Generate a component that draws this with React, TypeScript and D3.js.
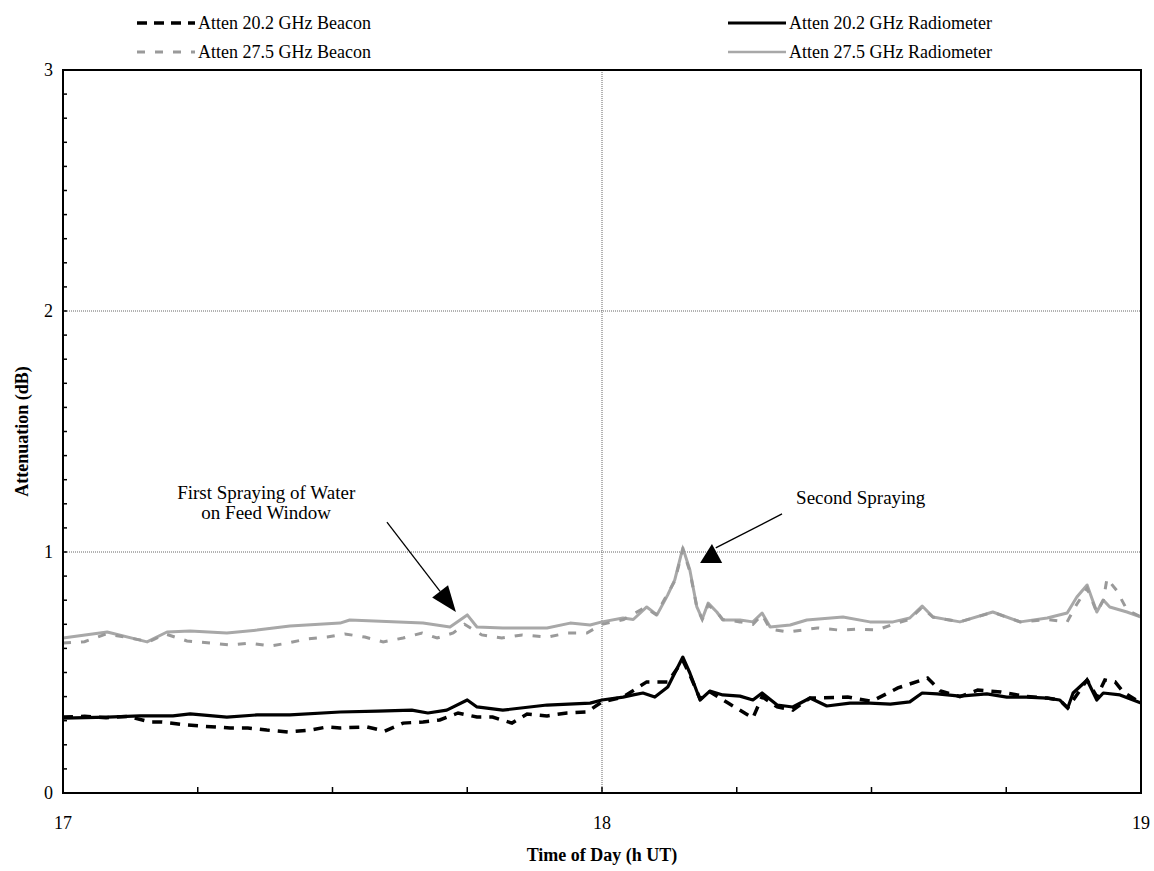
import React from 'react';
import * as d3 from 'd3';

type Pt = [number, number];

// [hour UT, attenuation dB]
const beacon20: Pt[] = [
  [17.0, 0.315], [17.04, 0.318], [17.08, 0.312], [17.12, 0.318], [17.161, 0.295], [17.184, 0.295],
  [17.23, 0.282], [17.254, 0.278], [17.31, 0.27], [17.343, 0.27], [17.378, 0.261], [17.417, 0.253],
  [17.458, 0.261], [17.49, 0.274], [17.514, 0.27], [17.564, 0.274], [17.597, 0.257], [17.631, 0.29],
  [17.668, 0.295], [17.699, 0.303], [17.733, 0.332], [17.768, 0.315], [17.797, 0.315], [17.833, 0.29],
  [17.861, 0.328], [17.898, 0.32], [17.935, 0.332], [17.972, 0.336], [18.0, 0.378], [18.039, 0.398],
  [18.083, 0.461], [18.122, 0.461], [18.15, 0.55], [18.163, 0.49], [18.182, 0.39], [18.2, 0.42],
  [18.234, 0.373], [18.28, 0.311], [18.297, 0.4], [18.325, 0.357], [18.354, 0.344], [18.386, 0.394],
  [18.456, 0.398], [18.5, 0.38], [18.549, 0.436], [18.604, 0.477], [18.628, 0.423], [18.664, 0.4],
  [18.697, 0.427], [18.74, 0.419], [18.788, 0.4], [18.826, 0.394], [18.849, 0.386], [18.864, 0.353],
  [18.9, 0.469], [18.918, 0.4], [18.933, 0.469], [18.952, 0.461], [18.967, 0.419], [19.0, 0.373],
];

const radiometer20: Pt[] = [
  [17.0, 0.311], [17.082, 0.315], [17.143, 0.32], [17.204, 0.32], [17.236, 0.328], [17.304, 0.315],
  [17.36, 0.324], [17.421, 0.324], [17.514, 0.336], [17.584, 0.34], [17.647, 0.344], [17.677, 0.332],
  [17.712, 0.344], [17.75, 0.386], [17.768, 0.357], [17.816, 0.344], [17.898, 0.365], [17.978, 0.373],
  [18.0, 0.386], [18.039, 0.398], [18.058, 0.407], [18.076, 0.415], [18.098, 0.398], [18.122, 0.44],
  [18.15, 0.564], [18.163, 0.498], [18.182, 0.386], [18.2, 0.423], [18.224, 0.407], [18.256, 0.402],
  [18.28, 0.386], [18.297, 0.415], [18.325, 0.365], [18.354, 0.357], [18.386, 0.394], [18.417, 0.361],
  [18.46, 0.373], [18.497, 0.373], [18.535, 0.369], [18.571, 0.378], [18.594, 0.415], [18.622, 0.411],
  [18.664, 0.402], [18.714, 0.411], [18.751, 0.398], [18.788, 0.398], [18.826, 0.394], [18.849, 0.386],
  [18.864, 0.353], [18.874, 0.415], [18.9, 0.469], [18.918, 0.386], [18.93, 0.415], [18.961, 0.407],
  [19.0, 0.373],
];

const beacon27: Pt[] = [
  [17.0, 0.622], [17.04, 0.628], [17.08, 0.66], [17.12, 0.645], [17.16, 0.628], [17.19, 0.66],
  [17.23, 0.631], [17.273, 0.622], [17.31, 0.614], [17.347, 0.622], [17.384, 0.61], [17.417, 0.622],
  [17.452, 0.639], [17.49, 0.647], [17.523, 0.66], [17.56, 0.647], [17.594, 0.627], [17.631, 0.643],
  [17.666, 0.664], [17.694, 0.643], [17.724, 0.664], [17.745, 0.7], [17.777, 0.656], [17.814, 0.643],
  [17.852, 0.656], [17.898, 0.647], [17.937, 0.664], [17.972, 0.664], [18.0, 0.7], [18.04, 0.72],
  [18.08, 0.77], [18.1, 0.74], [18.12, 0.82], [18.135, 0.88], [18.15, 1.01], [18.163, 0.92],
  [18.176, 0.77], [18.186, 0.72], [18.197, 0.78], [18.213, 0.75], [18.224, 0.72], [18.256, 0.71],
  [18.28, 0.7], [18.297, 0.74], [18.312, 0.68], [18.345, 0.668], [18.4, 0.685], [18.44, 0.676],
  [18.48, 0.68], [18.51, 0.676], [18.54, 0.7], [18.57, 0.72], [18.594, 0.77], [18.614, 0.73],
  [18.664, 0.71], [18.725, 0.75], [18.776, 0.71], [18.826, 0.72], [18.863, 0.71], [18.88, 0.78],
  [18.9, 0.85], [18.918, 0.75], [18.93, 0.8], [18.937, 0.89], [18.955, 0.84], [18.974, 0.76],
  [19.0, 0.73],
];

const radiometer27: Pt[] = [
  [17.0, 0.643], [17.082, 0.668], [17.156, 0.627], [17.193, 0.668], [17.236, 0.672], [17.304, 0.664],
  [17.36, 0.676], [17.421, 0.693], [17.514, 0.705], [17.532, 0.718], [17.668, 0.705], [17.718, 0.689],
  [17.75, 0.739], [17.768, 0.689], [17.816, 0.685], [17.898, 0.685], [17.941, 0.705], [17.978, 0.697],
  [18.0, 0.71], [18.039, 0.726], [18.058, 0.72], [18.083, 0.772], [18.102, 0.739], [18.122, 0.822],
  [18.135, 0.884], [18.15, 1.017], [18.163, 0.925], [18.176, 0.772], [18.186, 0.722], [18.197, 0.788],
  [18.213, 0.751], [18.224, 0.718], [18.256, 0.718], [18.28, 0.71], [18.297, 0.747], [18.312, 0.689],
  [18.349, 0.697], [18.38, 0.718], [18.447, 0.73], [18.497, 0.71], [18.54, 0.71], [18.571, 0.726],
  [18.594, 0.776], [18.614, 0.73], [18.664, 0.71], [18.725, 0.751], [18.776, 0.71], [18.826, 0.726],
  [18.863, 0.747], [18.881, 0.813], [18.9, 0.863], [18.918, 0.751], [18.93, 0.801], [18.942, 0.772],
  [18.974, 0.751], [19.0, 0.73],
];

const xTickLabels = [17, 18, 19];
const yTickLabels = [0, 1, 2, 3];

// annotation arrows: [tail, tip] in data space
const arrow1: Pt[] = [[17.601, 1.124], [17.729, 0.751]];
const arrow2Line: Pt[] = [[18.334, 1.158], [18.211, 1.017]];
const arrow2Head: Pt[] = [[18.182, 0.954], [18.223, 0.954], [18.204, 1.033]];

const W = 1154;
const H = 871;
const margin = { top: 70, right: 12, bottom: 78, left: 63 };
const font = '"Liberation Serif", "Times New Roman", serif';

export default function App() {
  const x = d3.scaleLinear().domain([17, 19]).range([margin.left, W - margin.right - 1]);
  const y = d3.scaleLinear().domain([0, 3]).range([H - margin.bottom, margin.top]);
  const line = d3.line<Pt>().x(d => x(d[0])).y(d => y(d[1]));

  const minorX = d3.range(17, 19.001, 0.25);
  const minorY = d3.range(0, 3.001, 0.1);

  const x0 = x(17), x1 = x(19), y0 = y(0), y1 = y(3);

  // arrow 1 head
  const [t1, h1] = [arrow1[0], arrow1[1]].map(p => [x(p[0]), y(p[1])]);
  const dx = h1[0] - t1[0], dy = h1[1] - t1[1];
  const len = Math.hypot(dx, dy);
  const ux = dx / len, uy = dy / len;
  const hl = 26, hw = 10;
  const bx = h1[0] - ux * hl, by = h1[1] - uy * hl;
  const head1 = [[h1[0], h1[1]], [bx - uy * hw, by + ux * hw], [bx + uy * hw, by - ux * hw]];

  const legend = [
    { label: 'Atten 20.2 GHz Beacon', color: '#000', dash: '10,7', width: 3.5, lx: 137, ly: 23 },
    { label: 'Atten 27.5 GHz Beacon', color: '#9a9a9a', dash: '8,10', width: 3, lx: 137, ly: 52 },
    { label: 'Atten 20.2 GHz Radiometer', color: '#000', dash: null, width: 3, lx: 728, ly: 23 },
    { label: 'Atten 27.5 GHz Radiometer', color: '#a8a8a8', dash: null, width: 2.5, lx: 728, ly: 52 },
  ];

  return (
    <svg width={W} height={H} style={{ position: 'absolute', left: 0, top: 0, background: '#fff' }} fontFamily={font}>
      {/* grid */}
      {[1, 2].map(v => (
        <line key={v} x1={x0} x2={x1} y1={y(v)} y2={y(v)} stroke="#666" strokeWidth={1} strokeDasharray="1,1" />
      ))}
      <line x1={x(18)} x2={x(18)} y1={y0} y2={y1} stroke="#666" strokeWidth={1} strokeDasharray="1,1" />

      {/* series */}
      <path d={line(radiometer27)!} fill="none" stroke="#a8a8a8" strokeWidth={3} strokeLinejoin="round" />
      <path d={line(beacon27)!} fill="none" stroke="#9a9a9a" strokeWidth={3} strokeDasharray="8,10" />
      <path d={line(radiometer20)!} fill="none" stroke="#000" strokeWidth={3.2} strokeLinejoin="round" />
      <path d={line(beacon20)!} fill="none" stroke="#000" strokeWidth={3.5} strokeDasharray="10,8" />

      {/* frame */}
      <rect x={x0} y={y1} width={x1 - x0} height={y0 - y1} fill="none" stroke="#000" strokeWidth={2} />
      {minorX.map(v => (
        <line key={'mx' + v} x1={x(v)} x2={x(v)} y1={y0} y2={y0 - 6} stroke="#000" strokeWidth={1.5} />
      ))}
      {minorY.map(v => (
        <line key={'my' + v} x1={x0} x2={x0 + 4} y1={y(v)} y2={y(v)} stroke="#000" strokeWidth={1.5} />
      ))}

      {/* tick labels */}
      {xTickLabels.map(v => (
        <text key={'xl' + v} x={x(v)} y={y0 + 36} textAnchor="middle" fontSize={18}>{v}</text>
      ))}
      {yTickLabels.map(v => (
        <text key={'yl' + v} x={x0 - 10} y={y(v) + 6} textAnchor="end" fontSize={18}>{v}</text>
      ))}

      {/* axis titles */}
      <text x={(x0 + x1) / 2} y={H - 10} textAnchor="middle" fontSize={18} fontWeight="bold">Time of Day (h UT)</text>
      <text transform={`translate(28,${(y0 + y1) / 2}) rotate(-90)`} textAnchor="middle" fontSize={18} fontWeight="bold">Attenuation (dB)</text>

      {/* annotations */}
      <text x={x(17.377)} y={y(1.22)} textAnchor="middle" fontSize={19}>First Spraying of Water</text>
      <text x={x(17.377)} y={y(1.137)} textAnchor="middle" fontSize={19}>on Feed Window</text>
      <line x1={t1[0]} y1={t1[1]} x2={bx} y2={by} stroke="#000" strokeWidth={1.3} />
      <polygon points={head1.map(p => p.join(',')).join(' ')} fill="#000" />

      <text x={x(18.48)} y={y(1.20)} textAnchor="middle" fontSize={19}>Second Spraying</text>
      <line x1={x(arrow2Line[0][0])} y1={y(arrow2Line[0][1])} x2={x(arrow2Line[1][0])} y2={y(arrow2Line[1][1])} stroke="#000" strokeWidth={1.3} />
      <polygon points={arrow2Head.map(p => `${x(p[0])},${y(p[1])}`).join(' ')} fill="#000" />

      {/* legend */}
      {legend.map(l => (
        <g key={l.label}>
          <line x1={l.lx} x2={l.lx + 58} y1={l.ly} y2={l.ly} stroke={l.color} strokeWidth={l.width}
            strokeDasharray={l.dash ?? undefined} />
          <text x={l.lx + 61} y={l.ly + 6} fontSize={18}>{l.label}</text>
        </g>
      ))}
    </svg>
  );
}
